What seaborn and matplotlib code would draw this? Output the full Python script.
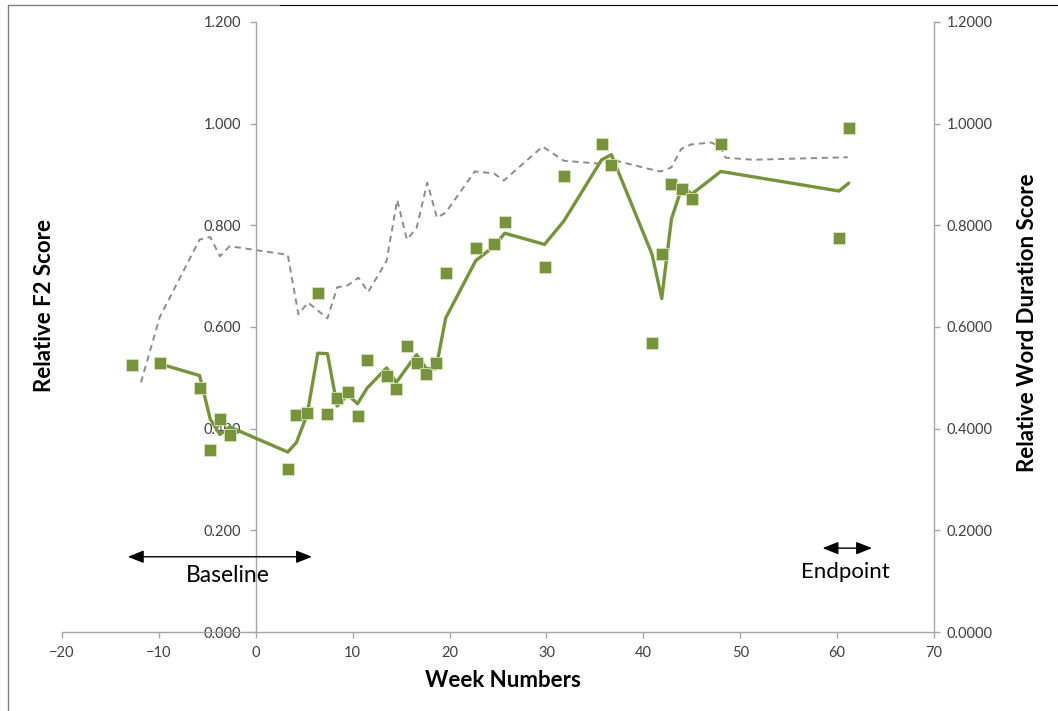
import numpy as np
import pandas as pd
import matplotlib.pyplot as plt
import seaborn as sns
from matplotlib.lines import Line2D
from matplotlib.ticker import FormatStrFormatter

# relative F2 score per week (green squares)
weeks = [-12.8, -9.9, -5.8, -4.7, -3.7, -2.7, 3.3, 4.2, 5.3, 6.4, 7.4, 8.4, 9.5, 10.5,
         11.5, 13.5, 14.5, 15.6, 16.6, 17.6, 18.6, 19.6, 22.7, 24.6, 25.7, 29.8, 31.8,
         35.7, 36.7, 40.9, 41.9, 42.9, 44.0, 45.0, 48.0, 60.2, 61.2]
f2_score = [0.526, 0.529, 0.480, 0.358, 0.419, 0.388, 0.320, 0.426, 0.430, 0.667, 0.428,
            0.461, 0.473, 0.425, 0.535, 0.504, 0.478, 0.562, 0.529, 0.507, 0.529, 0.706,
            0.755, 0.763, 0.806, 0.719, 0.898, 0.960, 0.918, 0.568, 0.744, 0.881, 0.871,
            0.852, 0.960, 0.775, 0.991]

# relative word duration score trend (grey dashed line, right axis)
dur_weeks = [-11.85, -9.9, -5.8, -4.7, -3.7, -2.7, 3.3, 4.4, 5.4, 7.4, 8.4, 9.5, 10.6,
             11.6, 13.5, 14.6, 15.6, 16.6, 17.7, 18.7, 19.6, 22.6, 24.6, 25.6, 29.6, 31.8,
             35.7, 36.8, 40.8, 41.8, 42.9, 43.9, 44.9, 47.0, 47.9, 48.5, 51.3, 61.1]
dur_score = [0.491, 0.620, 0.772, 0.777, 0.739, 0.759, 0.742, 0.625, 0.648, 0.617, 0.678,
             0.682, 0.697, 0.669, 0.730, 0.850, 0.772, 0.795, 0.884, 0.815, 0.825, 0.906,
             0.902, 0.888, 0.955, 0.927, 0.921, 0.929, 0.910, 0.906, 0.914, 0.950, 0.959,
             0.963, 0.955, 0.933, 0.929, 0.934]

x_ticks = [-20, -10, 0, 10, 20, 30, 40, 50, 60, 70]
y_ticks = [0.0, 0.2, 0.4, 0.6, 0.8, 1.0, 1.2]

green = "#77933C"
grey_axis = "#A6A6A6"
text_col = "#404040"

df = pd.DataFrame({"Week": weeks, "F2": f2_score})
# two period moving average trendline of the F2 scores
df["F2_avg"] = df["F2"].rolling(2).mean()
dur = pd.DataFrame({"Week": dur_weeks, "Duration": dur_score})

sns.set_style("white")
plt.rcParams["font.family"] = ["Lato", "DejaVu Sans"]

fig = plt.figure(figsize=(10.58, 7.11), dpi=100)
ax = fig.add_axes([62 / 1058, 79 / 711, 872 / 1058, 610 / 711])
ax2 = ax.twinx()

sns.lineplot(data=dur, x="Week", y="Duration", ax=ax2, color="#8C8C8C", lw=1.4,
             linestyle=(0, (3.2, 2.4)), sort=False, estimator=None)
sns.lineplot(data=df.dropna(), x="Week", y="F2_avg", ax=ax, color=green, lw=2.4,
             sort=False, estimator=None, zorder=3)
sns.scatterplot(data=df, x="Week", y="F2", ax=ax, color=green, marker="s", s=85,
                edgecolor="#D7E4BD", linewidth=0.6, zorder=4)

ax.set_zorder(ax2.get_zorder() + 1)
ax.patch.set_visible(False)

for a in (ax, ax2):
    a.set_xlim(-20, 70)
    a.set_ylim(0, 1.2)
    a.set_yticks(y_ticks)
    for s in a.spines.values():
        s.set_visible(False)
        s.set_color(grey_axis)
        s.set_linewidth(1)

ax.set_xticks(x_ticks)
ax.spines["left"].set_visible(True)
ax.spines["left"].set_position(("data", 0))
ax.spines["bottom"].set_visible(True)
ax2.spines["right"].set_visible(True)

ax.yaxis.set_major_formatter(FormatStrFormatter("%.3f"))
ax2.yaxis.set_major_formatter(FormatStrFormatter("%.4f"))
ax.tick_params(axis="y", direction="out", length=4.3, width=1, color=grey_axis,
               labelsize=10.5, labelcolor=text_col, pad=6, left=True)
ax.tick_params(axis="x", direction="out", length=4.3, width=1, color=grey_axis,
               labelsize=10.5, labelcolor=text_col, pad=5.5, bottom=True)
ax2.tick_params(axis="y", direction="out", length=4.3, width=1, color=grey_axis,
                labelsize=10.5, labelcolor=text_col, pad=5, right=True)

ax.set_xlabel("Week Numbers", fontsize=16, fontweight="bold", color="black")
ax.xaxis.set_label_coords(0.5057, -0.0787)
ax.xaxis.label.set_va("center")
ax.set_ylabel("Relative F2 Score", fontsize=16, fontweight="bold", color="black")
ax.yaxis.set_label_coords(-0.0195, 0.536)
ax.yaxis.label.set_va("center")
ax2.set_ylabel("Relative Word Duration Score", fontsize=16, fontweight="bold",
               color="black", rotation=90)
ax2.yaxis.set_label_coords(1.1067, 0.507)
ax2.yaxis.label.set_va("center")

# baseline / endpoint markers
arrow = dict(arrowstyle="<|-|>,head_length=0.8,head_width=0.32", color="black", lw=1,
             shrinkA=0, shrinkB=0, mutation_scale=12)
ax.annotate("", xy=(-13.2, 0.148), xytext=(5.8, 0.148), arrowprops=arrow)
ax.text(-2.9, 0.112, "Baseline", fontsize=16.5, ha="center", va="center", color="black")
ax.annotate("", xy=(58.5, 0.165), xytext=(63.6, 0.165), arrowprops=arrow)
ax.text(60.9, 0.119, "Endpoint", fontsize=16, ha="center", va="center", color="black")

# chart area border (left and top edges)
fig.add_artist(Line2D([8 / 1058, 8 / 1058], [0, 706 / 711], color="#7F7F7F", lw=1))
fig.add_artist(Line2D([8 / 1058, 280 / 1058], [706 / 711, 706 / 711], color="#7F7F7F", lw=1))
fig.add_artist(Line2D([280 / 1058, 1], [706 / 711, 706 / 711], color="black", lw=0.8))

fig.savefig("out.png", dpi=100)
